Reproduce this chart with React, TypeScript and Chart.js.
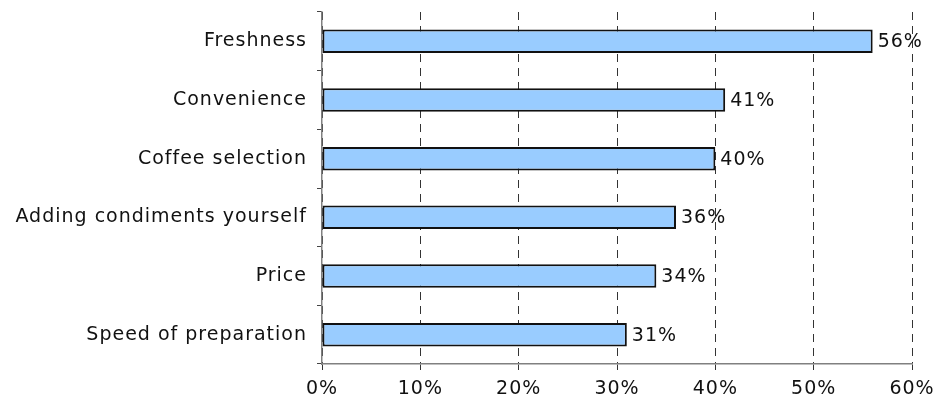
import React, { useEffect, useRef } from "react";
import { Chart, registerables, Plugin } from "chart.js";

Chart.register(...registerables);

const categories = [
  "Freshness",
  "Convenience",
  "Coffee selection",
  "Adding condiments yourself",
  "Price",
  "Speed of preparation",
];
const shares = [56, 41, 40, 36, 34, 31];
const xTicks = [0, 10, 20, 30, 40, 50, 60];

const FONT = "'DejaVu Sans', sans-serif";
const FONT_SIZE = 19;
const TRACKING = "1px";

// Slightly tracked-out text for every label on the canvas
const tracking: Plugin<"bar"> = {
  id: "tracking",
  beforeUpdate(chart) {
    (chart.ctx as any).letterSpacing = TRACKING;
  },
  beforeDraw(chart) {
    (chart.ctx as any).letterSpacing = TRACKING;
  },
};

// Writes the percentage just past the end of each bar
const valueLabels: Plugin<"bar"> = {
  id: "valueLabels",
  afterDatasetsDraw(chart) {
    const ctx = chart.ctx;
    const meta = chart.getDatasetMeta(0);
    ctx.save();
    ctx.font = `${FONT_SIZE}px ${FONT}`;
    ctx.fillStyle = "#111";
    ctx.textAlign = "left";
    ctx.textBaseline = "middle";
    meta.data.forEach((bar: any, i: number) => {
      ctx.fillText(`${shares[i]}%`, bar.x + 5, bar.y + 1);
    });
    ctx.restore();
  },
};

export default function App() {
  const canvasRef = useRef<HTMLCanvasElement>(null);

  useEffect(() => {
    const canvas = canvasRef.current;
    if (!canvas) return;
    const chart = new Chart(canvas, {
      type: "bar",
      data: {
        labels: categories,
        datasets: [
          {
            data: shares,
            backgroundColor: "#99CCFF",
            borderColor: "#111",
            borderWidth: 2,
            borderSkipped: false,
            categoryPercentage: 1,
            barPercentage: 0.4,
          },
        ],
      },
      options: {
        indexAxis: "y",
        animation: false,
        responsive: false,
        devicePixelRatio: 1,
        layout: { padding: { top: 12, right: 33, left: 0, bottom: 0 } },
        plugins: {
          legend: { display: false },
          tooltip: { enabled: false },
        },
        scales: {
          x: {
            min: 0,
            max: 60,
            afterBuildTicks(scale: any) {
              scale.ticks = xTicks.map((v) => ({ value: v }));
            },
            afterFit(scale: any) {
              scale.height = 42;
              scale.paddingLeft = 0;
              scale.paddingRight = 0;
            },
            ticks: {
              callback: (v: any) => `${v}%`,
              color: "#111",
              font: { family: FONT, size: FONT_SIZE },
              padding: 8,
              maxRotation: 0,
            },
            grid: {
              color: "#333",
              lineWidth: 1,
              tickLength: 6,
              tickColor: "#333",
              drawTicks: true,
            },
            border: { color: "#808080", width: 1.5, dash: [8, 6] },
          },
          y: {
            afterFit(scale: any) {
              scale.width = 322;
              scale.paddingTop = 0;
              scale.paddingBottom = 0;
            },
            ticks: {
              color: "#111",
              font: { family: FONT, size: FONT_SIZE },
              padding: 10,
            },
            grid: {
              offset: true,
              drawOnChartArea: false,
              tickLength: 5,
              tickColor: "#444",
              lineWidth: 1,
            },
            border: { color: "#808080", width: 1.5 },
          },
        },
      },
      plugins: [tracking, valueLabels],
    });
    return () => chart.destroy();
  }, []);

  return (
    <div style={{ position: "fixed", left: 0, top: 0, width: 945, height: 406, background: "#fff" }}>
      <canvas ref={canvasRef} width={945} height={406} />
    </div>
  );
}
